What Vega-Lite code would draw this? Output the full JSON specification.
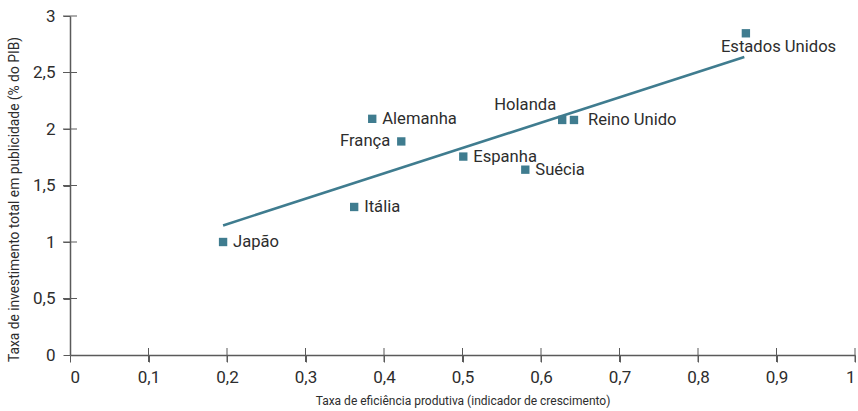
{
  "$schema": "https://vega.github.io/schema/vega-lite/v6.json",
  "width": 785,
  "height": 339,
  "autosize": {"type": "none"},
  "padding": {"left": 70, "top": 16, "right": 3, "bottom": 56},
  "background": "white",
  "config": {"view": {"stroke": null}, "font": "Roboto"},
  "datasets": {
    "paises": [
      {"pais": "Japão", "x": 0.195, "y": 1.0},
      {"pais": "Itália", "x": 0.362, "y": 1.31},
      {"pais": "Alemanha", "x": 0.385, "y": 2.09},
      {"pais": "França", "x": 0.422, "y": 1.89},
      {"pais": "Espanha", "x": 0.501, "y": 1.756},
      {"pais": "Suécia", "x": 0.58, "y": 1.64},
      {"pais": "Holanda", "x": 0.627, "y": 2.08},
      {"pais": "Reino Unido", "x": 0.642, "y": 2.08},
      {"pais": "Estados Unidos", "x": 0.861, "y": 2.847}
    ],
    "tendencia": [
      {"x": 0.195, "y": 1.147},
      {"x": 0.859, "y": 2.637}
    ],
    "marcas_x": [
      {"x": 0.1, "y": 0}, {"x": 0.2, "y": 0}, {"x": 0.3, "y": 0}, {"x": 0.4, "y": 0},
      {"x": 0.5, "y": 0}, {"x": 0.6, "y": 0}, {"x": 0.7, "y": 0}, {"x": 0.8, "y": 0},
      {"x": 0.9, "y": 0}, {"x": 1, "y": 0}
    ],
    "marcas_y": [
      {"x": 0, "y": 0.5}, {"x": 0, "y": 1}, {"x": 0, "y": 1.5}, {"x": 0, "y": 2},
      {"x": 0, "y": 2.5}, {"x": 0, "y": 3}
    ]
  },
  "data": {"name": "paises"},
  "encoding": {
    "x": {
      "field": "x", "type": "quantitative",
      "scale": {"domain": [0, 1], "nice": false},
      "axis": {
        "title": "Taxa de eficiência produtiva (indicador de crescimento)",
        "values": [0, 0.1, 0.2, 0.3, 0.4, 0.5, 0.6, 0.7, 0.8, 0.9, 1],
        "labelExpr": "replace(format(datum.value, '.1~f'), '.', ',')",
        "grid": false, "domainColor": "#5a5a5a", "domainWidth": 1.5,
        "tickSize": 7, "tickColor": "#5a5a5a", "tickWidth": 1,
        "labelFontSize": 17, "labelColor": "#2d2d2d", "labelPadding": 7,
        "titleFontSize": 12, "titleFontWeight": "normal", "titleColor": "#2d2d2d",
        "titlePadding": 10
      }
    },
    "y": {
      "field": "y", "type": "quantitative",
      "scale": {"domain": [0, 3], "nice": false},
      "axis": {
        "title": "Taxa de investimento total em publicidade (% do PIB)",
        "values": [0, 0.5, 1, 1.5, 2, 2.5, 3],
        "labelExpr": "replace(format(datum.value, '.1~f'), '.', ',')",
        "grid": false, "domainColor": "#5a5a5a", "domainWidth": 1.5,
        "tickSize": 7, "tickColor": "#5a5a5a", "tickWidth": 1,
        "labelFontSize": 17, "labelColor": "#2d2d2d", "labelPadding": 8,
        "titleFontSize": 13.8, "titleFontWeight": "normal", "titleColor": "#2d2d2d",
        "titlePadding": 11, "titleY": 183
      }
    }
  },
  "layer": [
    {
      "data": {"name": "marcas_x"},
      "mark": {"type": "tick", "orient": "vertical", "color": "#5a5a5a", "size": 14, "thickness": 1, "opacity": 1},
      "encoding": {}
    },
    {
      "data": {"name": "marcas_y"},
      "mark": {"type": "tick", "orient": "horizontal", "color": "#5a5a5a", "size": 14, "thickness": 1, "opacity": 1},
      "encoding": {}
    },
    {
      "data": {"name": "tendencia"},
      "mark": {"type": "line", "color": "#3f7c8f", "strokeWidth": 2.6},
      "encoding": {}
    },
    {
      "mark": {"type": "square", "color": "#3f7c8f", "opacity": 1, "size": 70},
      "encoding": {}
    },
    {
      "transform": [{"filter": {"field": "pais", "oneOf": ["Japão", "Itália", "Alemanha", "Espanha", "Suécia"]}}],
      "mark": {"type": "text", "align": "left", "baseline": "middle", "dx": 10, "fontSize": 16.6, "color": "#2d2d2d"},
      "encoding": {"text": {"field": "pais"}}
    },
    {
      "transform": [{"filter": {"field": "pais", "oneOf": ["Reino Unido"]}}],
      "mark": {"type": "text", "align": "left", "baseline": "middle", "dx": 14, "fontSize": 16.6, "color": "#2d2d2d"},
      "encoding": {"text": {"field": "pais"}}
    },
    {
      "transform": [{"filter": {"field": "pais", "oneOf": ["França"]}}],
      "mark": {"type": "text", "align": "right", "baseline": "middle", "dx": -11, "fontSize": 16.6, "color": "#2d2d2d"},
      "encoding": {"text": {"field": "pais"}}
    },
    {
      "transform": [{"filter": {"field": "pais", "oneOf": ["Holanda"]}}],
      "mark": {"type": "text", "align": "right", "baseline": "middle", "dx": -6, "dy": -15, "fontSize": 16.6, "color": "#2d2d2d"},
      "encoding": {"text": {"field": "pais"}}
    },
    {
      "transform": [{"filter": {"field": "pais", "oneOf": ["Estados Unidos"]}}],
      "mark": {"type": "text", "align": "left", "baseline": "middle", "dx": -25, "dy": 14, "fontSize": 16.6, "color": "#2d2d2d"},
      "encoding": {"text": {"field": "pais"}}
    }
  ]
}
